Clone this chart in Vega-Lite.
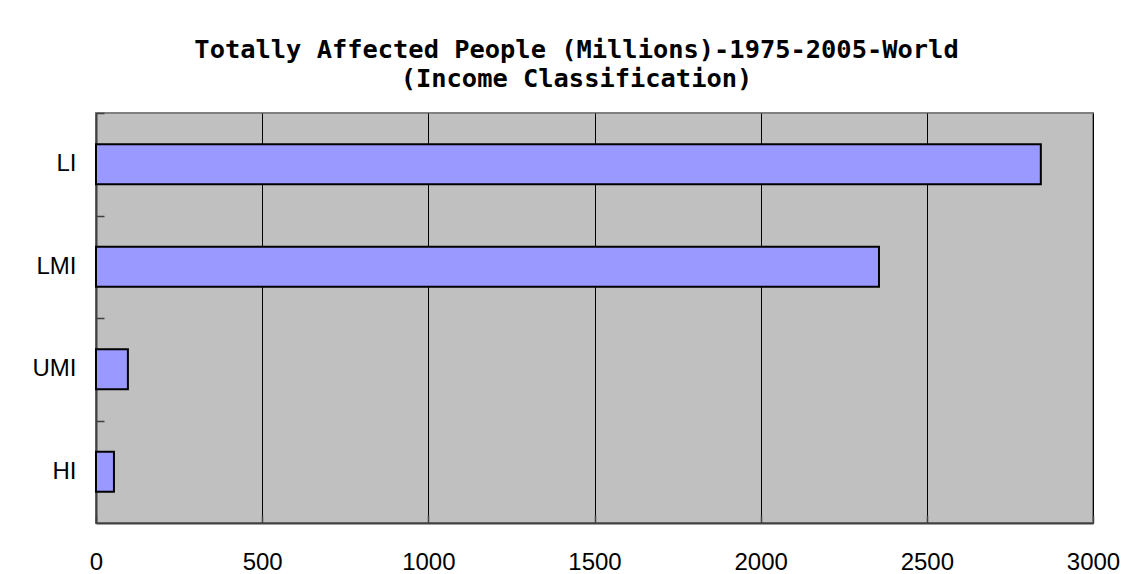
{
  "$schema": "https://vega.github.io/schema/vega-lite/v6.json",
  "autosize": "none",
  "width": 997,
  "height": 410,
  "padding": {"left": 96, "top": 113, "right": 40, "bottom": 51},
  "background": "white",
  "title": {
    "text": ["Totally Affected People (Millions)-1975-2005-World", "(Income Classification)"],
    "font": "DejaVu Sans Mono",
    "fontSize": 25.4,
    "fontWeight": "bold",
    "color": "black",
    "lineHeight": 29,
    "anchor": "middle",
    "frame": "group",
    "dx": -18,
    "offset": 20
  },
  "data": {
    "values": [
      {"income": "LI", "affected": 2843},
      {"income": "LMI", "affected": 2356},
      {"income": "UMI", "affected": 96},
      {"income": "HI", "affected": 54}
    ]
  },
  "layer": [
    {
      "mark": {"type": "bar", "color": "#9999FF", "stroke": "black", "strokeWidth": 2},
      "encoding": {
        "y": {
          "field": "income",
          "type": "nominal",
          "sort": ["LI", "LMI", "UMI", "HI"],
          "scale": {"paddingInner": 0.61, "paddingOuter": 0.305},
          "axis": {
            "title": null,
            "labelFont": "Liberation Sans",
            "labelFontSize": 24,
            "labelColor": "black",
            "ticks": false,
            "tickSize": 0,
            "labelPadding": 20,
            "domainColor": "#404040",
            "domainWidth": 2,
            "grid": false
          }
        },
        "x": {
          "field": "affected",
          "type": "quantitative",
          "scale": {"domain": [0, 3000], "nice": false},
          "axis": {
            "title": null,
            "values": [0, 500, 1000, 1500, 2000, 2500, 3000],
            "labelFont": "Liberation Sans",
            "labelFontSize": 24,
            "labelColor": "black",
            "labelFlush": false,
            "labelOverlap": false,
            "ticks": false,
            "tickSize": 0,
            "labelPadding": 27,
            "domainColor": "#404040",
            "domainWidth": 2,
            "grid": true,
            "gridColor": "black",
            "gridWidth": 1,
            "gridOpacity": 1,
            "format": "d"
          }
        }
      }
    },
    {
      "mark": {"type": "bar", "opacity": 0},
      "encoding": {
        "y": {
          "field": "income",
          "type": "nominal",
          "sort": ["LI", "LMI", "UMI", "HI"],
          "axis": {
            "orient": "right",
            "offset": -997,
            "title": null,
            "labels": false,
            "domain": false,
            "grid": false,
            "ticks": true,
            "tickBand": "center",
            "tickOffset": -51.25,
            "tickSize": 8,
            "tickColor": "#404040",
            "tickWidth": 1.5,
            "zindex": 2
          }
        },
        "x": {
          "field": "affected",
          "type": "quantitative",
          "axis": {
            "orient": "top",
            "offset": -410,
            "title": null,
            "labels": false,
            "domain": false,
            "grid": false,
            "ticks": true,
            "values": [0, 500, 1000, 1500, 2000, 2500, 3000],
            "tickSize": 8,
            "tickColor": "#404040",
            "tickWidth": 1.5,
            "zindex": 2
          }
        }
      }
    }
  ],
  "resolve": {"axis": {"x": "independent", "y": "independent"}},
  "config": {
    "view": {"fill": "#C0C0C0", "stroke": "#808080", "strokeWidth": 2}
  }
}
